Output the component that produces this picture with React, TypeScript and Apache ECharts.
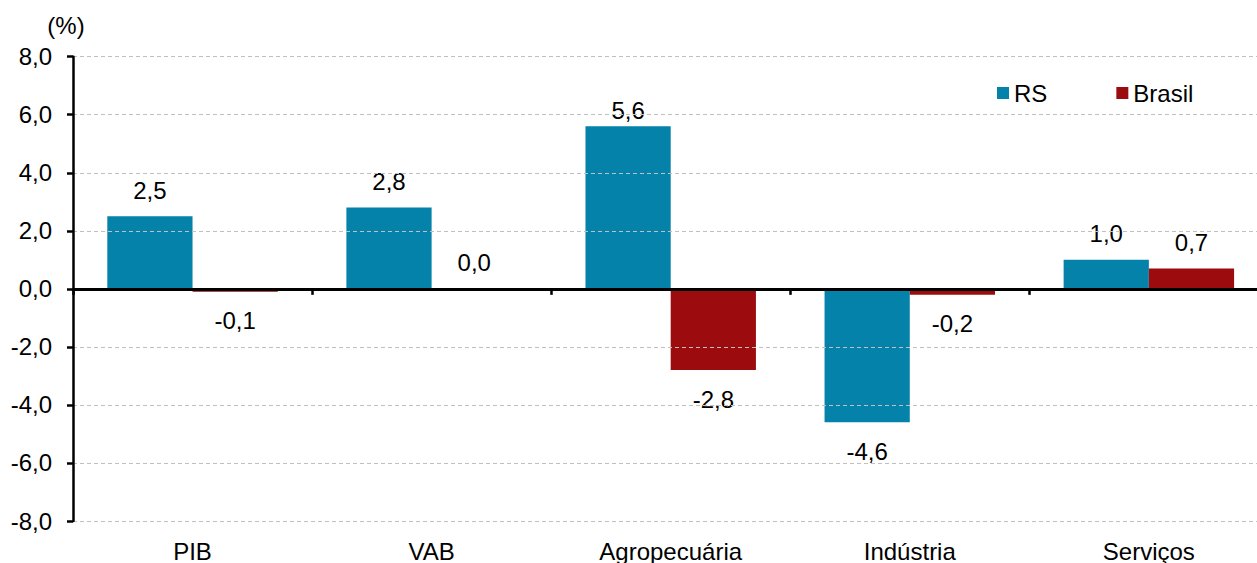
import React, { useEffect, useRef } from "react";
import * as echarts from "echarts";

const categories = ["PIB", "VAB", "Agropecuária", "Indústria", "Serviços"];
const rsValues = [2.5, 2.8, 5.6, -4.6, 1.0];
const brasilValues = [-0.1, 0.0, -2.8, -0.2, 0.7];
const yMin = -8;
const yMax = 8;
const yInterval = 2;

const FONT = "'Liberation Sans', Arial, sans-serif";
const FS = 24;
const fmt = (v: number) => v.toFixed(1).replace(".", ",");

function buildData(values: number[], topDistanceOverride: Record<number, number> = {}) {
  return values.map((v, i) => ({
    value: v,
    label: {
      position: v < 0 ? "bottom" : "top",
      distance: v < 0 ? 17 : topDistanceOverride[i] ?? 14,
    },
  }));
}

export default function App() {
  const ref = useRef<HTMLDivElement>(null);
  useEffect(() => {
    if (!ref.current) return;
    const chart = echarts.init(ref.current, undefined, { renderer: "svg" });
    const labelStyle = {
      show: true,
      color: "#000",
      fontSize: FS,
      fontFamily: FONT,
      formatter: (p: any) => fmt(p.value),
    };
    chart.setOption({
      animation: false,
      backgroundColor: "#fff",
      textStyle: { fontFamily: FONT },
      grid: { left: 73, right: 11.6, top: 56.7, bottom: 39.3, containLabel: false },
      legend: {
        left: 992,
        top: 76,
        itemWidth: 12,
        itemHeight: 12,
        itemGap: 69,
        icon: "rect",
        textStyle: { fontSize: FS, color: "#000", fontFamily: FONT },
        data: ["RS", "Brasil"],
      },
      graphic: [
        {
          type: "text",
          x: 66,
          y: 25,
          style: {
            text: "(%)",
            fontSize: FS,
            fontFamily: FONT,
            fill: "#000",
            align: "center",
            verticalAlign: "middle",
          },
        },
      ],
      xAxis: [
        {
          type: "category",
          data: categories,
          position: "bottom",
          z: 5,
          axisLine: { onZero: true, lineStyle: { color: "#000", width: 3.2 } },
          axisTick: { show: true, length: 6, lineStyle: { color: "#000", width: 2.5 } },
          axisLabel: { show: false },
          splitLine: { show: false },
        },
        {
          type: "category",
          data: categories,
          position: "bottom",
          axisLine: { show: false, onZero: false },
          axisTick: { show: false },
          axisLabel: { show: true, margin: 18, fontSize: FS, color: "#000", fontFamily: FONT },
          splitLine: { show: false },
        },
      ],
      yAxis: {
        type: "value",
        min: yMin,
        max: yMax,
        interval: yInterval,
        z: 5,
        axisLine: { show: true, lineStyle: { color: "#000", width: 2.5 } },
        axisTick: { show: true, length: 6, lineStyle: { color: "#000", width: 2.5 } },
        axisLabel: {
          margin: 21,
          fontSize: FS,
          color: "#000",
          fontFamily: FONT,
          formatter: (v: number) => fmt(v),
        },
        splitLine: { show: true, lineStyle: { color: "#c0c0c0", width: 1, type: [4, 3] } },
      },
      series: [
        {
          name: "RS",
          type: "bar",
          xAxisIndex: 0,
          data: buildData(rsValues, { 2: 4 }),
          itemStyle: { color: "#0582aa" },
          barGap: "0%",
          barCategoryGap: "28.7%",
          label: labelStyle,
        },
        {
          name: "Brasil",
          type: "bar",
          xAxisIndex: 0,
          data: buildData(brasilValues),
          itemStyle: { color: "#9c0c0e" },
          barGap: "0%",
          barCategoryGap: "28.7%",
          label: labelStyle,
        },
      ],
    });
    return () => chart.dispose();
  }, []);
  return (
    <div
      style={{
        position: "fixed",
        left: 0,
        top: 0,
        width: 1257,
        height: 563,
        overflow: "hidden",
        background: "#fff",
      }}
    >
      <div ref={ref} style={{ width: 1280, height: 563 }} />
    </div>
  );
}
